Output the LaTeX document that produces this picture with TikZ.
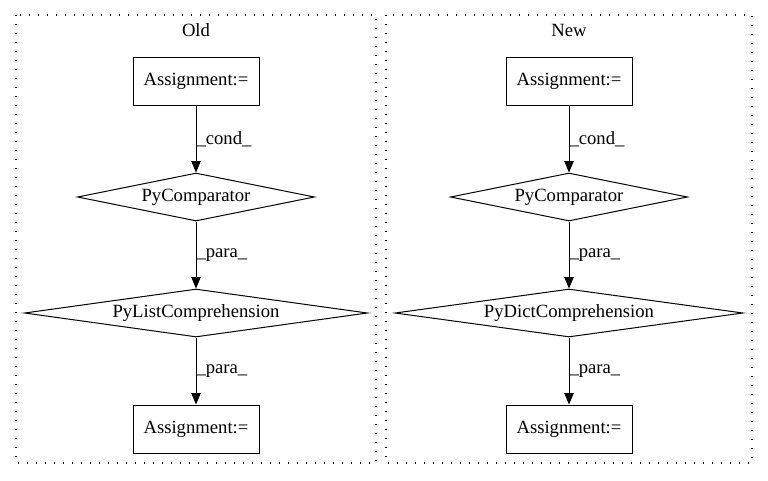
\documentclass[tikz,border=0pt]{standalone}
\usepackage{fontspec}
\setmainfont{Liberation Serif}
\usetikzlibrary{shapes.geometric,arrows.meta}
\begin{document}
\begin{tikzpicture}[x=0.75pt,y=-0.75pt,
  txt/.style={font=\fontsize{14}{16}\selectfont},
  box/.style={txt, draw, line width=0.75pt, minimum width=94.5pt, minimum height=36pt, inner sep=0pt},
  dia/.style={txt, draw, shape=diamond, line width=0.75pt, inner sep=0pt, minimum height=36pt},
  cluster/.style={draw, line width=1pt, dash pattern=on 1pt off 5.75pt},
  edge/.style={draw, line width=0.75pt, -{Triangle[length=8.5pt,width=7pt]}},
  elab/.style={txt, anchor=west, inner sep=0pt}
]
\useasboundingbox (0,0) rectangle (768,480);
% clusters
\draw[cluster] (16,15) rectangle (376,463);
\draw[cluster] (386,15) rectangle (752,463);
\node[txt] (oldlab) at (196,30) {Old};
\node[txt] (newlab) at (569,30) {New};
% Old
\node[box] (a1) at (196,81) {Assignment:=};
\node[dia, minimum width=177.75pt, aspect=4.94] (c1) at (196,197) {PyComparator};
\node[dia, minimum width=257.25pt, aspect=7.15] (l1) at (196,313) {PyListComprehension};
\node[box] (b1) at (196,429) {Assignment:=};
\draw[edge] (a1) -- node[elab] (e1) {\_cond\_} (c1);
\draw[edge] (c1) -- node[elab] (e2) {\_para\_} (l1);
\draw[edge] (l1) -- node[elab] (e3) {\_para\_} (b1);
% New
\node[box] (a2) at (569,81) {Assignment:=};
\node[dia, minimum width=177.75pt, aspect=4.94] (c2) at (569,197) {PyComparator};
\node[dia, minimum width=261pt, aspect=7.25] (d2) at (569,313) {PyDictComprehension};
\node[box] (b2) at (569,429) {Assignment:=};
\draw[edge] (a2) -- node[elab] (e4) {\_cond\_} (c2);
\draw[edge] (c2) -- node[elab] (e5) {\_para\_} (d2);
\draw[edge] (d2) -- node[elab] (e6) {\_para\_} (b2);
\end{tikzpicture}
\end{document}
